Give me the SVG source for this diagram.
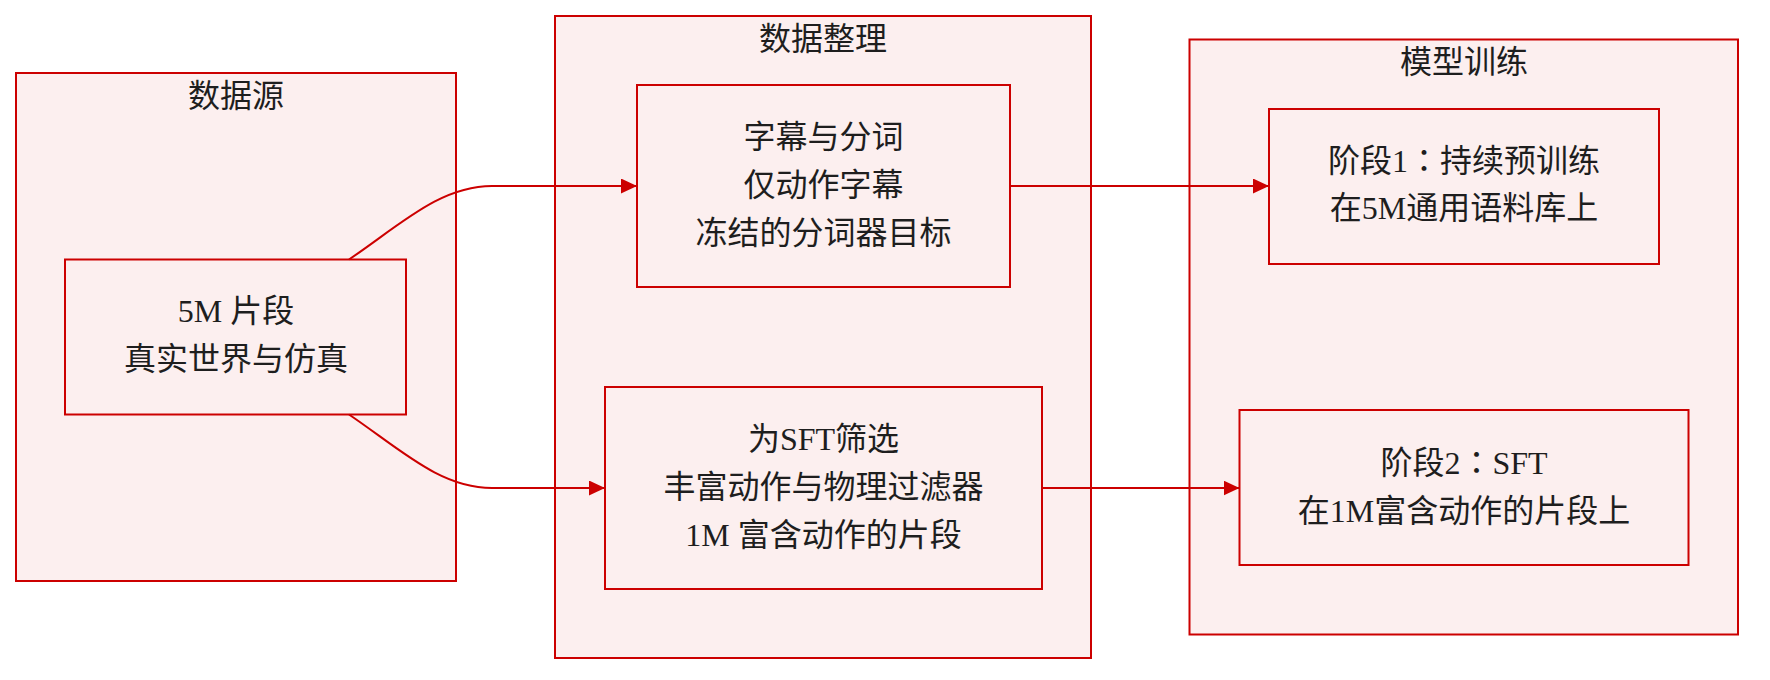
<svg xmlns="http://www.w3.org/2000/svg" width="1770" height="680" viewBox="0 0 1770 680">
<style>
.cluster{fill:#fcefef;stroke:#cc0000;stroke-width:2}
.node{fill:#fcefef;stroke:#cc0000;stroke-width:2}
.t{font-family:"Liberation Serif","Noto Sans CJK SC",serif;font-size:32px;fill:#1e1e1e;text-anchor:middle}
.c{font-family:"Noto Sans CJK JP","Noto Sans CJK TC",sans-serif}
.edge{fill:none;stroke:#cc0000;stroke-width:2}
</style>
<defs>
<marker id="arrow" markerUnits="userSpaceOnUse" markerWidth="16" markerHeight="15" refX="16" refY="7.5" orient="auto">
<path d="M0,0 L16,7.5 L0,15 z" fill="#cc0000"/>
</marker>
</defs>
<rect width="1770" height="680" fill="#ffffff"/>
<g id="cluster-source">
<rect class="cluster" x="16" y="73" width="440" height="508"/>
<text class="t" x="236" y="107">数据源</text>
</g>
<g id="cluster-curation">
<rect class="cluster" x="555" y="16" width="536" height="642"/>
<text class="t" x="823" y="50">数据整理</text>
</g>
<g id="cluster-training">
<rect class="cluster" x="1189.5" y="39.5" width="548.5" height="595"/>
<text class="t" x="1464" y="73">模型训练</text>
</g>
<g id="node-clips">
<rect class="node" x="65" y="259.5" width="341" height="155"/>
<text class="t" x="236" y="322">5M 片段</text>
<text class="t" x="236" y="370">真实世界与仿真</text>
</g>
<g id="node-captions">
<rect class="node" x="637" y="85" width="373" height="202"/>
<text class="t" x="823.5" y="148">字幕与分词</text>
<text class="t" x="823.5" y="196">仅动作字幕</text>
<text class="t" x="823.5" y="244">冻结的分词器目标</text>
</g>
<g id="node-filter">
<rect class="node" x="605" y="387" width="437" height="202"/>
<text class="t" x="823.5" y="450">为SFT筛选</text>
<text class="t" x="823.5" y="498">丰富动作与物理过滤器</text>
<text class="t" x="823.5" y="546">1M 富含动作的片段</text>
</g>
<g id="node-stage1">
<rect class="node" x="1269" y="109" width="390" height="155"/>
<text class="t" x="1464" y="172">阶段1<tspan class="c">：</tspan>持续预训练</text>
<text class="t" x="1464" y="219">在5M通用语料库上</text>
</g>
<g id="node-stage2">
<rect class="node" x="1239.5" y="410" width="449" height="155"/>
<text class="t" x="1464" y="474">阶段2<tspan class="c">：</tspan>SFT</text>
<text class="t" x="1464" y="522">在1M富含动作的片段上</text>
</g>
<g id="connectors">
<path class="edge" d="M349,259.5 C400,225 440,186 492,186 L637,186" marker-end="url(#arrow)"/>
<path class="edge" d="M349,414.5 C400,449 440,488 492,488 L605,488" marker-end="url(#arrow)"/>
<path class="edge" d="M1010,186 L1269,186" marker-end="url(#arrow)"/>
<path class="edge" d="M1042,488 L1239.5,488" marker-end="url(#arrow)"/>
</g>
</svg>
